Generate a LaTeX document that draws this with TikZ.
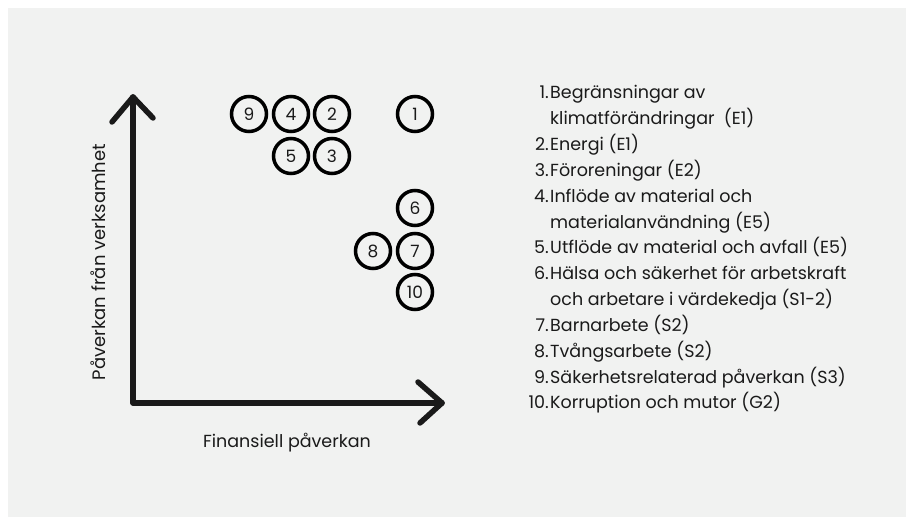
\documentclass[tikz,border=0pt]{standalone}
\usepackage{fontspec}
\setmainfont{Poppins}
\usetikzlibrary{arrows.meta}

\definecolor{bakgrund}{HTML}{F1F2F1}
\definecolor{svart}{HTML}{1A1A1A}

\begin{document}
\begin{tikzpicture}[x=1pt, y=1pt, font=\fontsize{17.5}{21}\selectfont, text=svart,
    axel/.style={line width=5.5pt, line cap=round, line join=round, draw=svart},
    nummer/.style={circle, draw=black, line width=3.5pt, minimum size=35pt,
      inner sep=0pt, font=\fontsize{17}{20}\selectfont},
    punkt/.style={anchor=base west, inner sep=0pt},
    siffra/.style={anchor=base east, inner sep=0pt}]
  % Bakgrund och ram
  \useasboundingbox (0,0) rectangle (906,517);
  \fill[white] (0,0) rectangle (906,517);
  \fill[bakgrund] (8,0) rectangle (906,509);

  % Axlar med öppna pilspetsar
  \coordinate (origo) at (133,114);
  \coordinate (ytopp) at (133,420);
  \coordinate (xtopp) at (442,114);
  \draw[axel] (ytopp) -- (origo) -- (xtopp);
  \draw[axel] (ytopp) ++(-21,-25) -- (ytopp) -- ++(20,-21);
  \draw[axel] (xtopp) ++(-24,21) -- (xtopp) -- ++(-22,-20);

  \node[rotate=90, font=\fontsize{18}{21}\selectfont] (ylabel) at (98,255) {Påverkan från verksamhet};
  \node (xlabel) at (287,74) {Finansiell påverkan};

  % Numrerade cirklar
  \node[nummer] (n9)  at (249,403) {9};
  \node[nummer] (n4)  at (291,403) {4};
  \node[nummer] (n2)  at (332,403) {2};
  \node[nummer] (n1)  at (415,403) {1};
  \node[nummer] (n5)  at (291,361) {5};
  \node[nummer] (n3)  at (332,361) {3};
  \node[nummer] (n6)  at (415,309) {6};
  \node[nummer] (n8)  at (373,266) {8};
  \node[nummer] (n7)  at (415,266) {7};
  \node[nummer] (n10) at (415,225) {10};

  % Förklaring
  \foreach \nr/\rad [count=\i from 0] in {
      1./Begränsningar av,
      /klimatförändringar \ (E1),
      2./Energi (E1),
      3./Föroreningar (E2),
      4./Inflöde av material och,
      /materialanvändning (E5),
      5./Utflöde av material och avfall (E5),
      6./Hälsa och säkerhet för arbetskraft,
      /och arbetare i värdekedja (S1-2),
      7./Barnarbete (S2),
      8./Tvångsarbete (S2),
      9./Säkerhetsrelaterad påverkan (S3),
      10./Korruption och mutor (G2)} {
    \node[siffra] (nr\i) at (549,418-25.83*\i) {\nr};
    \node[punkt] (rad\i) at (550,418-25.83*\i) {\rad};
  }
\end{tikzpicture}
\end{document}
